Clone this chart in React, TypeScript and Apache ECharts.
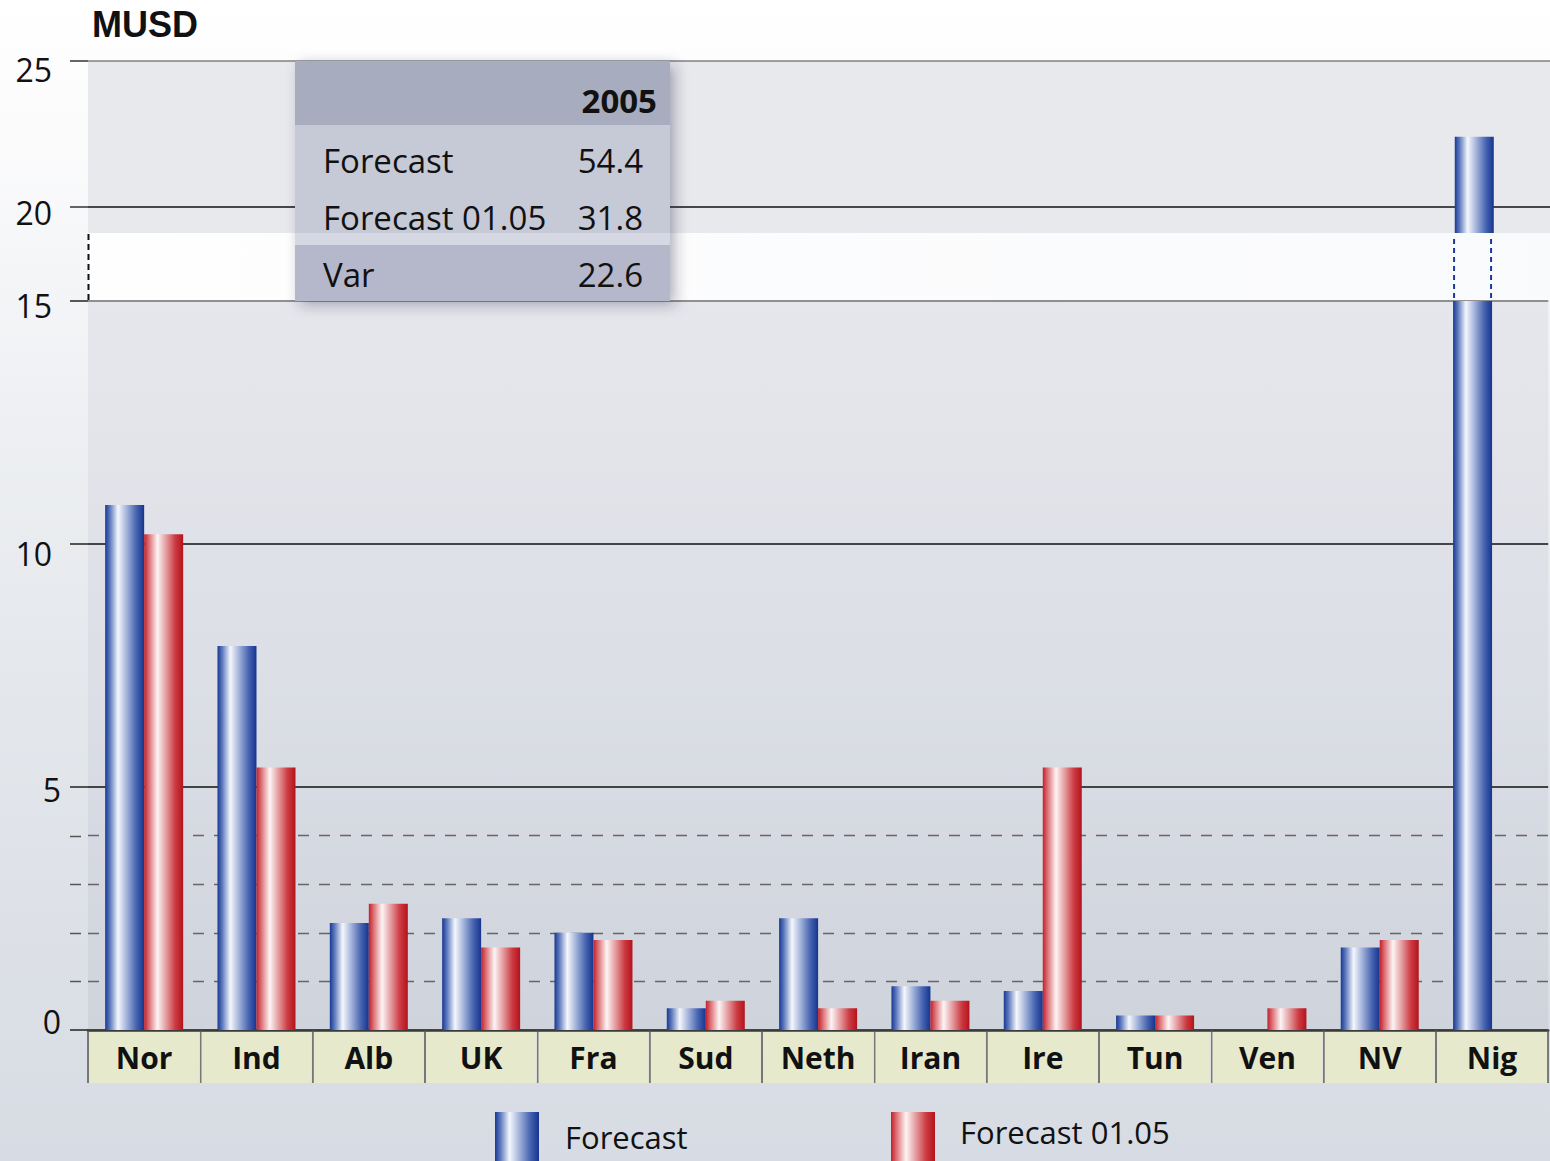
import React, { useEffect, useRef } from 'react';
import * as echarts from 'echarts';

// ---- data ----
const categories = ['Nor', 'Ind', 'Alb', 'UK', 'Fra', 'Sud', 'Neth', 'Iran', 'Ire', 'Tun', 'Ven', 'NV', 'Nig'];
const forecast = [10.8, 7.9, 2.2, 2.3, 2.0, 0.45, 2.3, 0.9, 0.8, 0.3, 0, 1.7, 22.4];
const forecast0105 = [10.2, 5.4, 2.6, 1.7, 1.85, 0.6, 0.45, 0.6, 5.4, 0.3, 0.45, 1.85, 0];
const seriesNames = ['Forecast', 'Forecast 01.05'];
const lowerTicks = [0, 5, 10, 15];
const upperTicks = [20, 25];
const dashedTicks = [1, 2, 3, 4];
const tableYear = '2005';
const tableLabels = ['Forecast', 'Forecast 01.05', 'Var'];
const tableValues = ['54.4', '31.8', '22.6'];
const unitTitle = 'MUSD';

// ---- layout / style ----
const W = 1550;
const H = 1161;
const GRID_LEFT = 88;
const TICK_LEN = 18;
const UPPER_TOP = 61;
const UPPER_BOTTOM = 233;
const LOWER_TOP = 301;
const LOWER_BOTTOM = 1030;
const UPPER_MIN = 19.1;
const BAR_W = 39;
const FONT = '"Open Sans", "Noto Sans", sans-serif';
// vertical nudge of each y label (px, + = down), as in the original artwork
const labelNudge: Record<string, number> = { '0': -9, '5': 2, '10': 9, '15': 4, '20': 6, '25': 8 };

const blueGrad = new echarts.graphic.LinearGradient(0, 0, 1, 0, [
  { offset: 0, color: '#1a3891' },
  { offset: 0.12, color: '#5b78bd' },
  { offset: 0.33, color: '#f5f7fc' },
  { offset: 0.55, color: '#a3b3da' },
  { offset: 0.8, color: '#4664b0' },
  { offset: 1, color: '#16348e' },
]);
const redGrad = new echarts.graphic.LinearGradient(0, 0, 1, 0, [
  { offset: 0, color: '#c2202a' },
  { offset: 0.14, color: '#df7a7f' },
  { offset: 0.34, color: '#fdf4f4' },
  { offset: 0.56, color: '#e49ea1' },
  { offset: 0.8, color: '#cc3a41' },
  { offset: 1, color: '#b3131c' },
]);

function yLabelRich() {
  const rich: Record<string, any> = {};
  Object.keys(labelNudge).forEach((k) => {
    const s = labelNudge[k];
    const right = k.length > 1 ? 9 : 0;
    rich['v' + k] = {
      fontFamily: FONT,
      fontSize: 32,
      color: '#111',
      padding: s >= 0 ? [2 * s, right, 0, 0] : [0, right, -2 * s, 0],
    };
  });
  return rich;
}
const yFormatter = (v: number) => `{v${v}|${v}}`;

export default function App() {
  const ref = useRef<HTMLDivElement>(null);

  useEffect(() => {
    document.body.style.margin = '0';
    const chart = echarts.init(ref.current as HTMLDivElement, null, { renderer: 'svg' });

    const rich = yLabelRich();

    const legendBase = {
      top: 1112,
      padding: 0,
      itemWidth: 44,
      itemHeight: 49,
      icon: 'rect',
      selectedMode: false,
    };

    const option: any = {
      animation: false,
      backgroundColor: 'transparent',
      title: {
        text: unitTitle,
        left: 87,
        top: 1,
        textStyle: { fontFamily: '"Liberation Sans", Arial, sans-serif', fontWeight: 'bold', fontSize: 36, color: '#111' },
      },
      legend: [
        {
          ...legendBase,
          data: [seriesNames[0]],
          left: 495,
          textStyle: { fontFamily: FONT, fontSize: 31, color: '#111', padding: [0, 0, 0, 21] },
        },
        {
          ...legendBase,
          data: [seriesNames[1]],
          left: 891,
          formatter: (name: string) => `{t|${name}}`,
          textStyle: {
            fontFamily: FONT,
            fontSize: 31,
            color: '#111',
            padding: [0, 0, 0, 20],
            rich: { t: { fontFamily: FONT, fontSize: 31, color: '#111', padding: [0, 0, 10, 0] } },
          },
        },
      ],
      grid: [
        {
          left: GRID_LEFT,
          right: 0,
          top: LOWER_TOP,
          height: LOWER_BOTTOM - LOWER_TOP,
          show: true,
          borderWidth: 0,
          backgroundColor: new echarts.graphic.LinearGradient(0, 0, 0, 1, [
            { offset: 0, color: '#e6e7ec' },
            { offset: 0.5, color: '#dcdfe6' },
            { offset: 1, color: '#cfd3dc' },
          ]),
        },
        {
          left: GRID_LEFT,
          right: 0,
          top: UPPER_TOP,
          height: UPPER_BOTTOM - UPPER_TOP,
          show: true,
          borderWidth: 0,
          backgroundColor: '#e8e9ed',
        },
      ],
      xAxis: [
        {
          type: 'category',
          gridIndex: 0,
          data: categories,
          axisLine: { show: true, lineStyle: { color: '#3a3a3a', width: 2.5 } },
          axisTick: { show: true, length: 53, alignWithLabel: false, lineStyle: { color: '#555', width: 1.5 } },
          axisLabel: {
            margin: 2,
            interval: 0,
            fontFamily: FONT,
            fontWeight: 'bold',
            fontSize: 30,
            color: '#111',
            backgroundColor: '#e6e9cb',
            width: 110,
            height: 51,
            lineHeight: 51,
            align: 'center',
            verticalAlign: 'top',
            overflow: 'none',
          },
          splitLine: { show: false },
        },
        {
          type: 'category',
          gridIndex: 1,
          data: categories,
          show: false,
        },
      ],
      yAxis: [
        {
          type: 'value',
          gridIndex: 0,
          min: lowerTicks[0],
          max: lowerTicks[lowerTicks.length - 1],
          interval: 5,
          axisLine: { show: false },
          axisTick: { show: true, length: TICK_LEN, lineStyle: { color: '#222', width: 1.5 } },
          axisLabel: { margin: 27, formatter: yFormatter, rich },
          splitLine: { show: true, lineStyle: { color: ['#444', '#111', '#111', '#707070'], width: 1.5 } },
        },
        {
          type: 'value',
          gridIndex: 1,
          min: UPPER_MIN,
          max: upperTicks[upperTicks.length - 1],
          axisLine: { show: false },
          axisTick: { show: true, length: TICK_LEN, customValues: upperTicks, lineStyle: { color: '#333', width: 1.5 } },
          axisLabel: { margin: 27, customValues: upperTicks, formatter: yFormatter, rich },
          splitLine: { show: true, lineStyle: { color: ['#111', '#808080'], width: 1.5 } },
        },
        {
          type: 'value',
          gridIndex: 0,
          min: lowerTicks[0],
          max: lowerTicks[lowerTicks.length - 1],
          axisLine: { show: false },
          axisLabel: { show: false },
          axisTick: { show: false, customValues: dashedTicks },
          splitLine: { show: true, lineStyle: { color: '#666', width: 1.3, type: [11, 10] } },
        },
      ],
      series: [
        {
          name: seriesNames[0],
          type: 'bar',
          xAxisIndex: 0,
          yAxisIndex: 0,
          data: forecast,
          barWidth: BAR_W,
          barGap: '0%',
          itemStyle: { color: blueGrad },
        },
        {
          name: seriesNames[1],
          type: 'bar',
          xAxisIndex: 0,
          yAxisIndex: 0,
          data: forecast0105,
          barWidth: BAR_W,
          barGap: '0%',
          itemStyle: { color: redGrad },
        },
        {
          name: seriesNames[0],
          type: 'bar',
          xAxisIndex: 1,
          yAxisIndex: 1,
          data: forecast,
          barWidth: BAR_W,
          barGap: '0%',
          clip: true,
          itemStyle: { color: blueGrad },
        },
        {
          name: seriesNames[1],
          type: 'bar',
          xAxisIndex: 1,
          yAxisIndex: 1,
          data: forecast0105,
          barWidth: BAR_W,
          barGap: '0%',
          clip: true,
          itemStyle: { color: redGrad },
        },
      ],
    };

    chart.setOption(option);

    // position of the broken (Nig) bar
    const nigIdx = forecast.indexOf(Math.max(...forecast));
    const cx = chart.convertToPixel({ xAxisIndex: 0 }, categories[nigIdx]) as number;
    const barL = cx - BAR_W;
    const barR = cx;

    // short dashed tick stubs left of the axis, at the minor gridlines
    const stubs = dashedTicks.map((v) => {
      const y = Math.round(chart.convertToPixel({ yAxisIndex: 2 }, v) as number) + 0.5;
      return {
        type: 'line',
        z: 5,
        shape: { x1: GRID_LEFT - TICK_LEN, y1: y, x2: GRID_LEFT - TICK_LEN + 11, y2: y },
        style: { stroke: '#555', lineWidth: 1.5 },
      };
    });

    const TX = 295;
    const TW = 375;
    const rowsY = [160, 217, 274];

    const txt = (text: string, x: number, y: number, align: string, bold = false) => ({
      type: 'text',
      z: 32,
      style: {
        text,
        x,
        y,
        fill: '#111',
        font: `${bold ? 'bold ' : ''}33px ${FONT}`,
        textAlign: align,
        align,
        textVerticalAlign: 'middle',
        verticalAlign: 'middle',
      },
    });

    chart.setOption({
      graphic: [
        ...stubs,
        {
          type: 'rect',
          z: 20,
          shape: { x: GRID_LEFT, y: UPPER_BOTTOM, width: W - GRID_LEFT, height: LOWER_TOP - UPPER_BOTTOM - 1 },
          style: {
            fill: new echarts.graphic.LinearGradient(0, 0, 1, 0, [
              { offset: 0, color: '#fefefe' },
              { offset: 1, color: '#f9fafc' },
            ]),
          },
        },
        {
          type: 'line',
          z: 21,
          shape: { x1: GRID_LEFT + 0.5, y1: UPPER_BOTTOM + 1, x2: GRID_LEFT + 0.5, y2: LOWER_TOP - 1 },
          style: { stroke: '#111', lineWidth: 2, lineDash: [6, 4] },
        },
        {
          type: 'line',
          z: 21,
          shape: { x1: barL + 1, y1: UPPER_BOTTOM + 6, x2: barL + 1, y2: LOWER_TOP - 1 },
          style: { stroke: '#1a3a95', lineWidth: 2, lineDash: [5, 4] },
        },
        {
          type: 'line',
          z: 21,
          shape: { x1: barR - 1, y1: UPPER_BOTTOM + 6, x2: barR - 1, y2: LOWER_TOP - 1 },
          style: { stroke: '#1a3a95', lineWidth: 2, lineDash: [5, 4] },
        },
        // table overlay
        {
          type: 'rect',
          z: 30,
          shape: { x: TX, y: UPPER_TOP, width: TW, height: LOWER_TOP - UPPER_TOP },
          style: { fill: '#c6c9d6', shadowBlur: 14, shadowOffsetX: 5, shadowOffsetY: 4, shadowColor: 'rgba(40,45,70,0.35)' },
        },
        { type: 'rect', z: 31, shape: { x: TX, y: UPPER_TOP, width: TW, height: 64 }, style: { fill: '#a7acbf' } },
        { type: 'rect', z: 31, shape: { x: TX, y: UPPER_BOTTOM, width: TW, height: 12 }, style: { fill: '#d5d8e2' } },
        { type: 'rect', z: 31, shape: { x: TX, y: 245, width: TW, height: 56 }, style: { fill: '#b4b8ca' } },
        txt(tableYear, 657, 100, 'right', true),
        ...tableLabels.map((l, i) => txt(l, 323, rowsY[i], 'left')),
        ...tableValues.map((v, i) => txt(v, 643, rowsY[i], 'right')),
      ],
    });

    return () => chart.dispose();
  }, []);

  return (
    <div
      ref={ref}
      style={{
        width: W,
        height: H,
        background: 'linear-gradient(to bottom, #ffffff 0%, #fbfbfc 12%, #eef0f3 35%, #e2e5ea 65%, #d7dbe3 100%)',
      }}
    />
  );
}
